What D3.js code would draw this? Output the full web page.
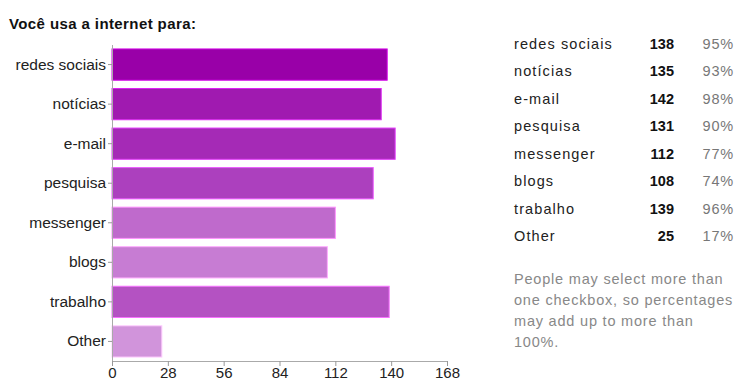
<!DOCTYPE html>
<html>
<head>
<meta charset="utf-8">
<script src="https://cdn.jsdelivr.net/npm/d3@7.9.0/dist/d3.min.js"></script>
<style>
  body { margin: 0; background: #fff; }
  svg { display: block; font-family: "Liberation Sans", Arial, sans-serif; }
</style>
</head>
<body>
<svg id="chart" width="736" height="380"></svg>
<script>
const categories = ['redes sociais', 'notícias', 'e-mail', 'pesquisa', 'messenger', 'blogs', 'trabalho', 'Other'];
const counts = [138, 135, 142, 131, 112, 108, 139, 25];
const percents = ['95%', '93%', '98%', '90%', '77%', '74%', '96%', '17%'];
const barColors = ['#9900a8', '#a01ab0', '#a52ab6', '#ac40be', '#bf6acc', '#c77cd3', '#b452c2', '#d194db'];
const xTicks = [0, 28, 56, 84, 112, 140, 168];
const note = ['People may select more than', 'one checkbox, so percentages', 'may add up to more than', '100%.'];

const FONT = '"Liberation Sans", Arial, sans-serif';
const svg = d3.select('#chart');

svg.append('text')
  .attr('x', 9).attr('y', 29)
  .attr('font-size', 15).attr('font-weight', 'bold').attr('fill', '#111')
  .attr('letter-spacing', 0.4)
  .text('Você usa a internet para:');

const x = d3.scaleLinear().domain([0, 168]).range([112, 447]);
const y = d3.scaleBand().domain(categories).range([45, 361]).paddingInner(0.21).paddingOuter(0.1);

// bars
svg.append('g').selectAll('rect')
  .data(categories)
  .join('rect')
  .attr('x', x(0))
  .attr('y', d => y(d))
  .attr('width', (d, i) => x(counts[i]) - x(0))
  .attr('height', y.bandwidth())
  .attr('fill', (d, i) => barColors[i])
  .attr('stroke', (d, i) => d3.color(barColors[i]).brighter(0.9))
  .attr('stroke-width', 1);

// y axis
const yAxis = svg.append('g')
  .attr('transform', `translate(${x(0)},0)`)
  .call(d3.axisLeft(y).tickSize(4).tickPadding(2).tickSizeOuter(0));
yAxis.select('.domain').attr('stroke', '#aaa').attr('d', 'M0.5,45V361');
yAxis.selectAll('.tick line').attr('stroke', '#999');
yAxis.selectAll('.tick text').attr('font-size', 15.5).attr('fill', '#222').attr('font-family', FONT);

// x axis
const xAxis = svg.append('g')
  .attr('transform', 'translate(0,361)')
  .call(d3.axisBottom(x).tickValues(xTicks).tickSize(5).tickPadding(1).tickSizeOuter(0));
xAxis.select('.domain').attr('stroke', '#aaa');
xAxis.selectAll('.tick line').attr('stroke', '#999');
xAxis.selectAll('.tick text').attr('font-size', 15).attr('fill', '#222').attr('font-family', FONT);

// table on the right
const rowY = d3.scaleLinear().domain([0, 7]).range([49, 241]);
const table = svg.append('g').attr('font-size', 14.5).attr('letter-spacing', 1.1);
categories.forEach((c, i) => {
  table.append('text').attr('x', 514).attr('y', rowY(i)).attr('fill', '#222').text(c);
  table.append('text').attr('x', 674).attr('y', rowY(i)).attr('text-anchor', 'end')
    .attr('font-weight', 'bold').attr('fill', '#111').attr('letter-spacing', 0).text(counts[i]);
  table.append('text').attr('x', 734).attr('y', rowY(i)).attr('text-anchor', 'end')
    .attr('fill', '#777').attr('letter-spacing', 0.8).text(percents[i]);
});

svg.append('g').selectAll('text')
  .data(note)
  .join('text')
  .attr('x', 514)
  .attr('y', (d, i) => 284 + i * 21)
  .attr('font-size', 14.5).attr('fill', '#888').attr('letter-spacing', 0.8)
  .text(d => d);
</script>
</body>
</html>
